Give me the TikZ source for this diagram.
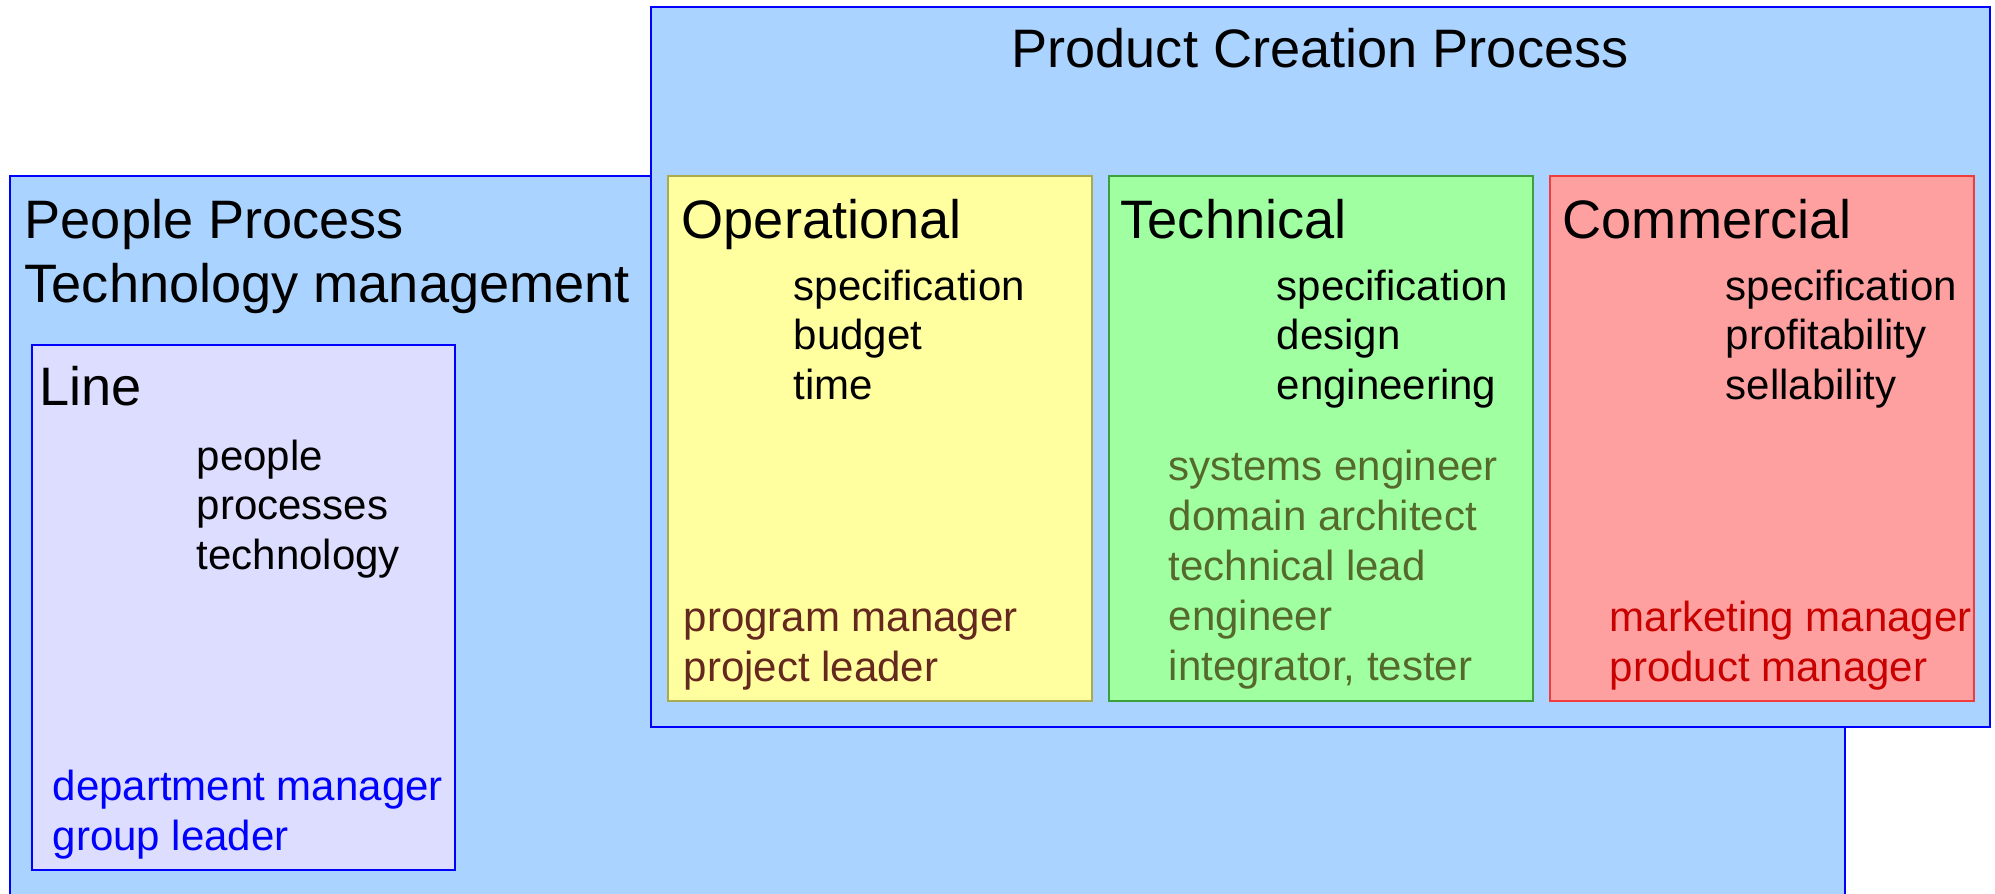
\documentclass[tikz,border=0pt]{standalone}
\usepackage{fontspec}
\setmainfont{Liberation Sans}
\usepackage{tikz}

\definecolor{areablue}{RGB}{170,212,255}
\definecolor{linelilac}{RGB}{221,221,255}
\definecolor{opfill}{RGB}{255,255,160}
\definecolor{opline}{RGB}{170,170,80}
\definecolor{techfill}{RGB}{160,255,160}
\definecolor{techline}{RGB}{60,160,60}
\definecolor{comfill}{RGB}{255,160,160}
\definecolor{comline}{RGB}{240,60,60}
\definecolor{oprole}{RGB}{100,40,30}
\definecolor{techrole}{RGB}{85,105,45}
\definecolor{comrole}{RGB}{200,0,0}

\begin{document}
\begin{tikzpicture}[x=0.01cm, y=-0.01cm,
    head/.style={anchor=base west, inner sep=0pt, font=\fontsize{15.4}{18}\selectfont},
    item/.style={anchor=base west, inner sep=0pt, font=\fontsize{11.95}{14}\selectfont}]
      \useasboundingbox (0,0) rectangle (1995,893);
      \clip (0,0) rectangle (1995,893);
      \filldraw[fill=areablue, draw=blue, line width=0.8pt] (10,176) rectangle (1845,960);
      \node[head] (ppt1) at (24,238) {People Process};
      \node[head] (ppt2) at (24,302) {Technology management};
      \filldraw[fill=linelilac, draw=blue, line width=0.8pt] (32,345) rectangle (455,870);
      \node[head] (line) at (39,405) {Line};
      \foreach \w [count=\i] in {people, processes, technology}{
          \node[item] (lineitem\i) at (196,{470+49.7*(\i-1)}) {\w};
      }
      \foreach \w [count=\i] in {department manager, group leader}{
          \node[item, text=blue] (linerole\i) at (52,{800+50.5*(\i-1)}) {\w};
      }
      \filldraw[fill=areablue, draw=blue, line width=0.8pt] (651,7) rectangle (1990,727);
      \node[head, anchor=base] (pcp) at (1320,67) {Product Creation Process};
      \foreach \x/\fc/\dc in {668/opfill/opline, 1109/techfill/techline, 1550/comfill/comline}{
          \filldraw[fill=\fc, draw=\dc, line width=0.5pt] (\x,176) rectangle (\x+424,701);
      }
      \node[head] (op) at (681,238) {Operational};
      \node[head] (tech) at (1120,238) {Technical};
      \node[head] (com) at (1562,238) {Commercial};
      \foreach \w [count=\i] in {specification, budget, time}{
          \node[item] (opitem\i) at (793,{300+49.8*(\i-1)}) {\w};
      }
      \foreach \w [count=\i] in {specification, design, engineering}{
          \node[item] (techitem\i) at (1276,{300+49.8*(\i-1)}) {\w};
      }
      \foreach \w [count=\i] in {specification, profitability, sellability}{
          \node[item] (comitem\i) at (1725,{300+49.8*(\i-1)}) {\w};
      }
      \foreach \w [count=\i] in {program manager, project leader}{
          \node[item, text=oprole] (oprole\i) at (683,{631+50*(\i-1)}) {\w};
      }
      \foreach \w [count=\i] in {systems engineer, domain architect, technical lead, engineer, {integrator, tester}}{
          \node[item, text=techrole] (techrole\i) at (1168,{480+50*(\i-1)}) {\w};
      }
      \foreach \w [count=\i] in {marketing manager, product manager}{
          \node[item, text=comrole] (comrole\i) at (1609,{631+50*(\i-1)}) {\w};
      }
  \end{tikzpicture}
\end{document}
